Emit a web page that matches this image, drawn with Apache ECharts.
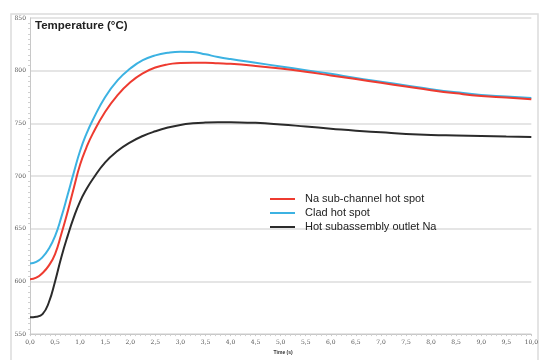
<!DOCTYPE html>
<html>
<head>
<meta charset="utf-8">
<script src="https://cdn.jsdelivr.net/npm/echarts@6/dist/echarts.min.js"></script>
<style>html,body{margin:0;padding:0;background:#fff}#c{width:541px;height:360px}</style>
</head>
<body>
<div id="c"></div>
<script>
var time = [0, 0.125, 0.25, 0.375, 0.5, 0.625, 0.75, 0.875, 1.0, 1.125, 1.25, 1.5, 1.75, 2.0, 2.25, 2.5, 2.75, 3.0, 3.25, 3.5, 3.75, 4.0, 4.5, 5.0, 5.5, 6.0, 6.5, 7.0, 7.5, 8.0, 8.5, 9.0, 9.5, 10.0];
var naHotSpot = [602, 603.5, 608, 615, 626, 645, 666, 689, 711, 727, 740, 761, 777, 789, 797.5, 803, 806, 807.2, 807.6, 807.5, 807, 806.5, 804.5, 802, 799, 795.5, 792, 788.5, 785, 781.5, 778.5, 776, 774.5, 773];
var cladHotSpot = [617, 618.5, 623, 631, 643, 661, 682, 703.5, 724, 740, 753, 775, 791, 802, 810, 814.5, 817, 818, 817.7, 815.5, 813, 811, 807.5, 804, 800.5, 797, 793, 789.5, 786, 782.5, 779.5, 777, 775.5, 774];
var outletNa = [566, 566.5, 569, 580, 600, 623, 643, 661, 676, 687.5, 697, 713, 724, 732, 738, 742.5, 746, 748.5, 750, 750.8, 751.1, 751, 750.5, 749, 747, 745, 743, 741.5, 740, 739, 738.5, 738, 737.5, 737];
var seriesNames = ['Na sub-channel hot spot', 'Clad hot spot', 'Hot subassembly outlet Na'];
var yTicks = [550, 600, 650, 700, 750, 800, 850];

function pairs(arr){ return arr.map(function(v,i){ return [time[i], v]; }); }

var chart = echarts.init(document.getElementById('c'));
chart.setOption({
  animation: false,
  backgroundColor: '#fff',
  title: {
    text: 'Temperature (°C)',
    left: 35, top: 20, padding: 0,
    textStyle: { fontFamily: 'Liberation Sans', fontSize: 11.5, fontWeight: 'bold', color: '#222' }
  },
  graphic: [
    { type: 'rect', shape: { x: 11, y: 14, width: 527, height: 400 }, style: { fill: 'none', stroke: '#dcdcdc', lineWidth: 1.5 }, z: -1 }
  ],
  legend: {
    orient: 'vertical',
    left: 270, top: 193,
    itemWidth: 25, itemHeight: 2, itemGap: 2,
    icon: 'rect',
    padding: 0,
    textStyle: { fontFamily: 'Liberation Sans', fontSize: 11, lineHeight: 12, color: '#222', padding: [0, 0, 0, 5] },
    data: seriesNames
  },
  grid: { left: 30, right: 4, top: 18, bottom: 17 },
  xAxis: {
    type: 'value', min: 0, max: 10, interval: 0.5,
    name: 'Time (s)', nameLocation: 'middle', nameGap: 13,
    nameTextStyle: { fontSize: 5, fontWeight: 'bold', color: '#333', padding: [0, 0, 0, 5] },
    axisLine: { show: true, lineStyle: { color: '#c8c8c8', width: 1 } },
    axisTick: { show: true, length: 2, lineStyle: { color: '#c8c8c8' } },
    minorTick: { show: true, splitNumber: 5, length: 2, lineStyle: { color: '#d0d0d0' } },
    axisLabel: { fontSize: 6, color: '#555', margin: 5, fontFamily: 'DejaVu Serif',
      formatter: function(v){ return v.toFixed(1).replace('.', ','); } },
    splitLine: { show: false }
  },
  yAxis: {
    type: 'value', min: 550, max: 850, interval: 50,
    axisLine: { show: true, lineStyle: { color: '#c8c8c8', width: 1 } },
    axisTick: { show: false },
    minorTick: { show: true, splitNumber: 10, length: 2, lineStyle: { color: '#d0d0d0' } },
    axisLabel: { fontSize: 6, color: '#555', margin: 4, fontFamily: 'DejaVu Serif',
      formatter: function(v){ return yTicks.indexOf(v) >= 0 ? String(v) : ''; } },
    splitLine: { show: true, lineStyle: { color: '#dcdcdc', width: 1.5 } }
  },
  series: [
    { name: seriesNames[0], type: 'line', smooth: 0.5, showSymbol: false, data: pairs(naHotSpot),
      itemStyle: { color: '#ee3b30' }, lineStyle: { color: '#ee3b30', width: 2 }, z: 3 },
    { name: seriesNames[1], type: 'line', smooth: 0.5, showSymbol: false, data: pairs(cladHotSpot),
      itemStyle: { color: '#3cb2e2' }, lineStyle: { color: '#3cb2e2', width: 2 }, z: 2 },
    { name: seriesNames[2], type: 'line', smooth: 0.5, showSymbol: false, data: pairs(outletNa),
      itemStyle: { color: '#2b2b2b' }, lineStyle: { color: '#2b2b2b', width: 2 }, z: 4 }
  ]
});
</script>
</body>
</html>
